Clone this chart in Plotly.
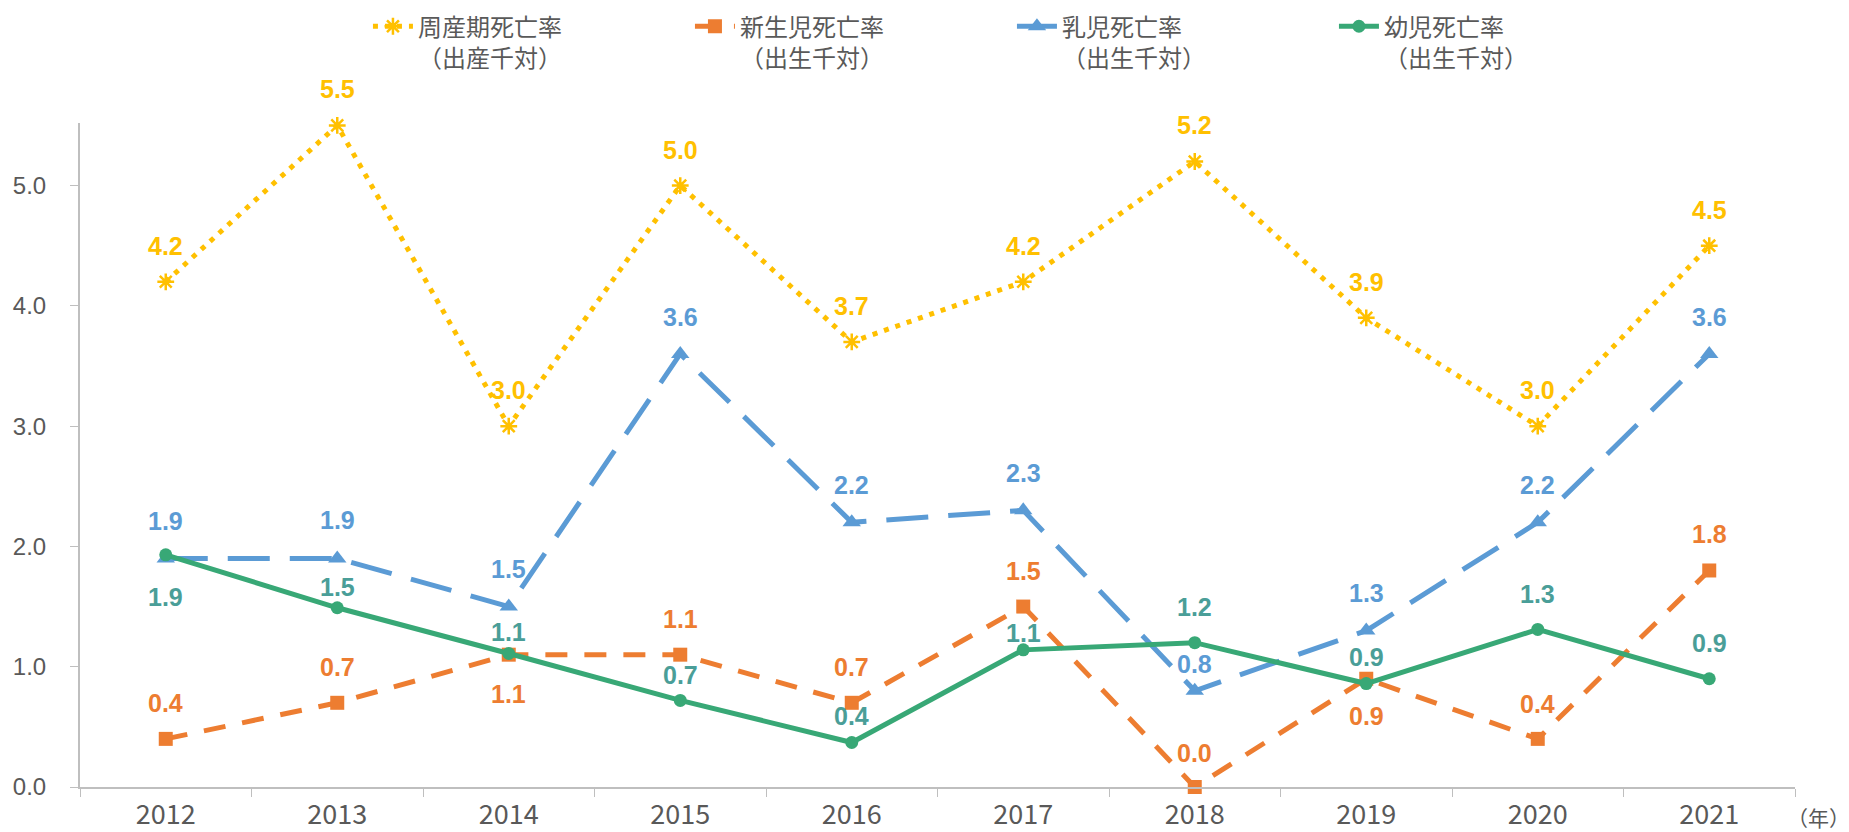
import plotly.graph_objects as go

years = ["2012", "2013", "2014", "2015", "2016", "2017", "2018", "2019", "2020", "2021"]
perinatal = [4.2, 5.5, 3.0, 5.0, 3.7, 4.2, 5.2, 3.9, 3.0, 4.5]
neonatal = [0.4, 0.7, 1.1, 1.1, 0.7, 1.5, 0.0, 0.9, 0.4, 1.8]
infant = [1.9, 1.9, 1.5, 3.6, 2.2, 2.3, 0.8, 1.3, 2.2, 3.6]
child = [1.93, 1.49, 1.11, 0.72, 0.37, 1.14, 1.20, 0.86, 1.31, 0.90]

names = ["周産期死亡率<br>（出産千対）", "新生児死亡率<br>（出生千対）",
         "乳児死亡率<br>（出生千対）", "幼児死亡率<br>（出生千対）"]

# styles
line_colors = ["#FFC000", "#ED7D31", "#5B9BD5", "#38A876"]
label_colors = ["#FFC000", "#ED7D31", "#5B9BD5", "#4A9E98"]
dashes = ["5px,7px", "22px,17px", "42px,20px", "solid"]
symbols = ["asterisk-open", "square", "triangle-up", "circle"]
msizes = [14, 14, 16, 13]

# label offsets (px, positive = above)
shifts = [
    [36] * 10,
    [36, 36, -39, 36, 36, 36, 34, -37, 35, 36],
    [37, 38, 38, 37, 37, 37, 27, 38, 37, 37],
    [-42, 21, 21, 25, 26, 17, 36, 27, 35, 36],
]

series = [perinatal, neonatal, infant, child]

fig = go.Figure()
for i, vals in enumerate(series):
    mk = dict(symbol=symbols[i], size=msizes[i], color=line_colors[i])
    if symbols[i] == "asterisk-open":
        mk["line"] = dict(color=line_colors[i], width=2.5)
    fig.add_trace(go.Scatter(
        x=years, y=vals, name=names[i], mode="lines+markers",
        line=dict(color=line_colors[i], width=5, dash=dashes[i]),
        marker=mk, cliponaxis=False,
    ))
    for j, v in enumerate(vals):
        fig.add_annotation(
            x=j, y=v, xref="x", yref="y", text=f"{v:.1f}", showarrow=False,
            yshift=shifts[i][j], yanchor="middle", xanchor="center",
            font=dict(family="Liberation Sans, Arial", size=25, color=label_colors[i],
                      weight="bold"),
        )

fig.add_annotation(
    xref="paper", yref="paper", x=1, y=0, xanchor="left", yanchor="middle",
    xshift=-10, yshift=-30, text="（年）", showarrow=False,
    font=dict(family="Noto Sans CJK JP", size=21, color="#595959"),
)

fig.update_layout(
    width=1849, height=832,
    margin=dict(l=80, r=54, t=123, b=45, autoexpand=False),
    plot_bgcolor="white", paper_bgcolor="white",
    showlegend=True,
    legend=dict(
        orientation="h", xref="container", yref="container",
        x=0.199, y=0.995, xanchor="left", yanchor="top",
        font=dict(family="Noto Sans CJK JP", size=24, color="#595959"),
        valign="top", itemwidth=40, entrywidth=267, traceorder="normal",
        bgcolor="rgba(0,0,0,0)",
    ),
    xaxis=dict(
        type="category", range=[-0.5, 9.5], showline=True, linecolor="#BFBFBF",
        linewidth=2, ticks="outside", tickson="boundaries", ticklen=8,
        tickcolor="#BFBFBF", showgrid=False, zeroline=False, automargin=False,
        tickfont=dict(family="Noto Sans CJK JP", size=27, color="#595959"),
        ticklabelstandoff=3,
    ),
    yaxis=dict(
        range=[0, 5.52], tickvals=[0, 1, 2, 3, 4, 5], tickformat=".1f",
        showline=True, linecolor="#BFBFBF", linewidth=2, ticks="outside",
        ticklen=8, tickcolor="#BFBFBF", showgrid=False, zeroline=False,
        automargin=False,
        tickfont=dict(family="Liberation Sans, Arial", size=24, color="#595959"),
        ticklabelstandoff=19,
    ),
)

fig.write_html("out.html", config={"displayModeBar": False},
               post_script="document.body.style.margin='0';")
